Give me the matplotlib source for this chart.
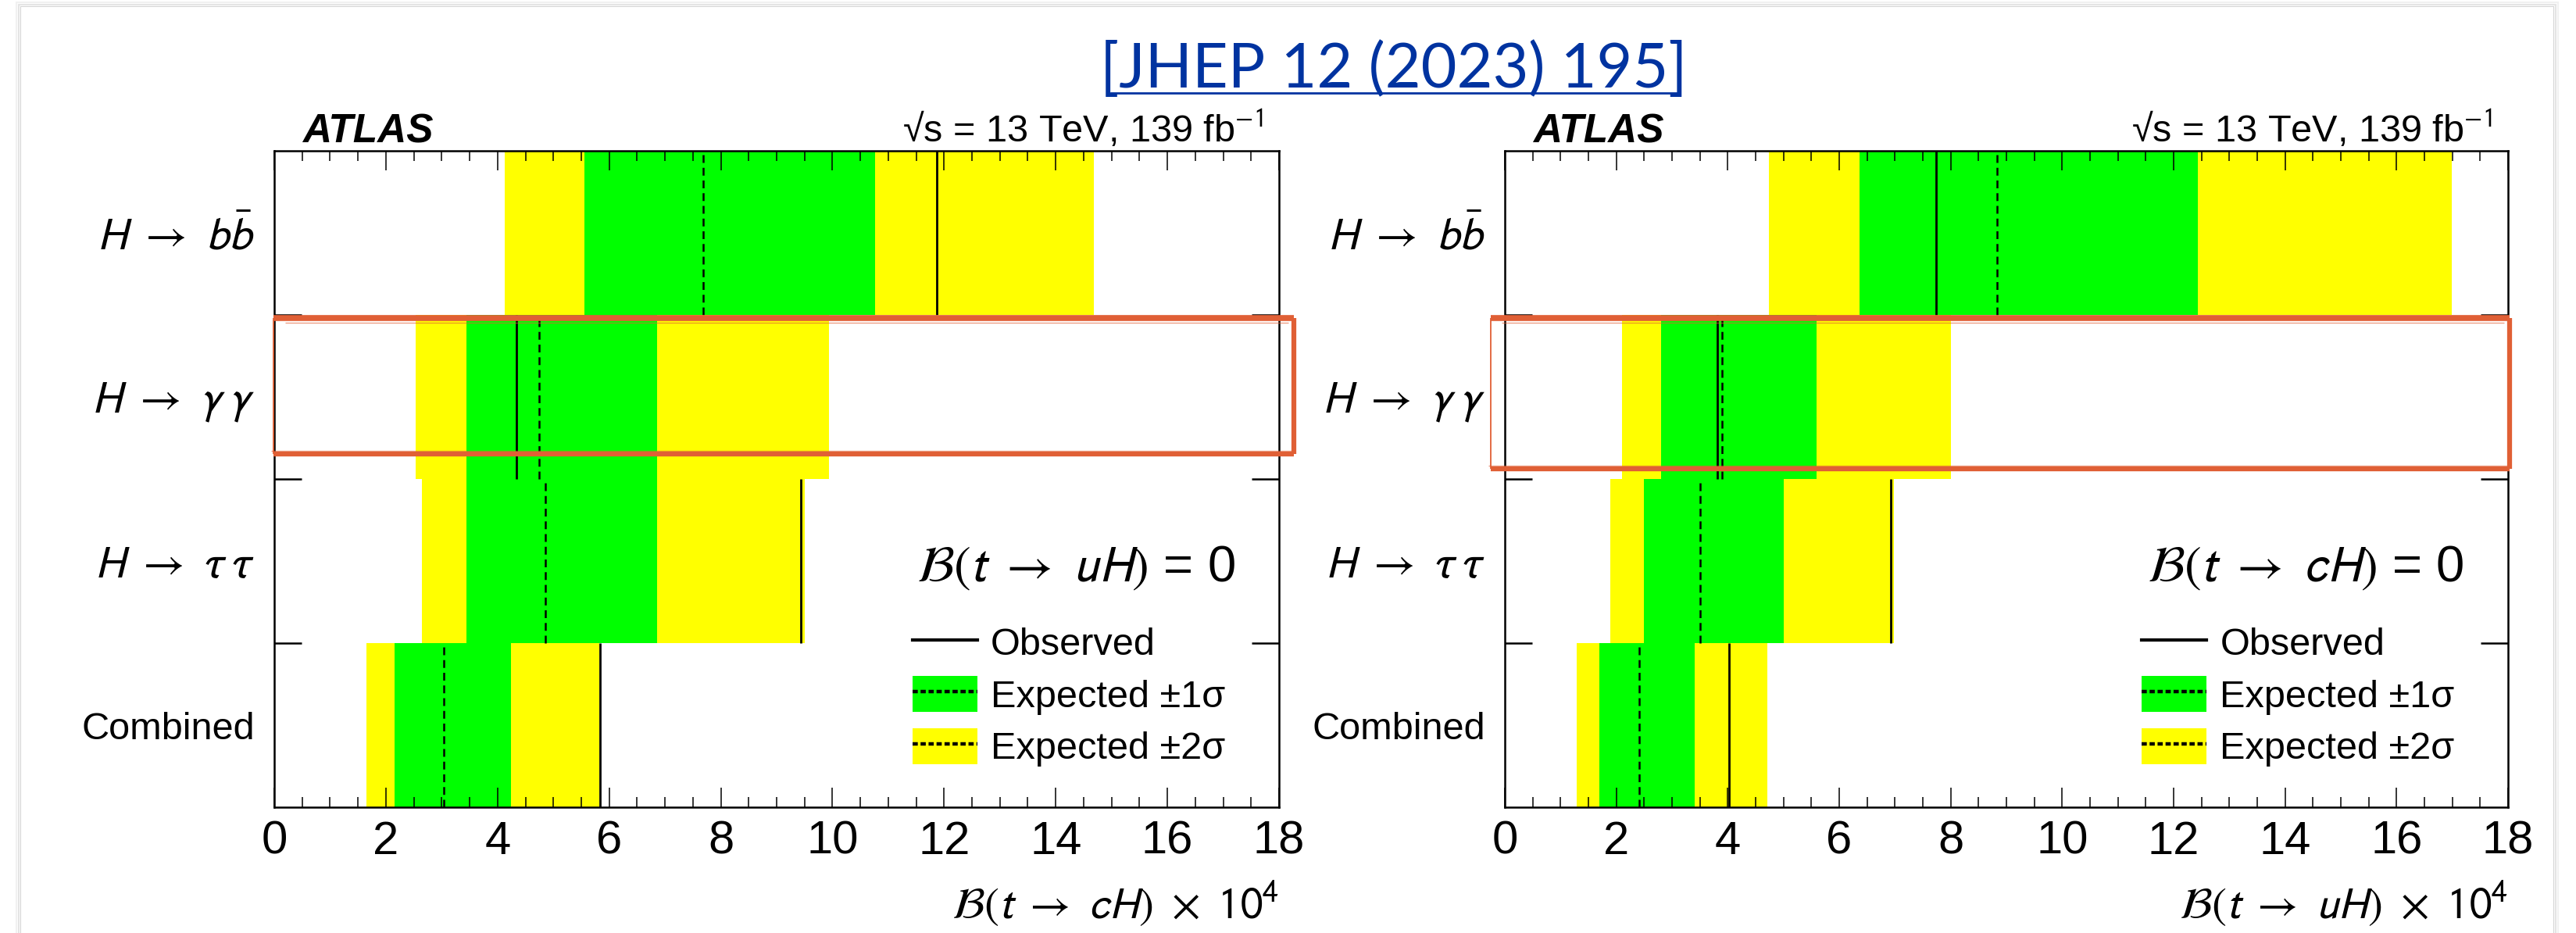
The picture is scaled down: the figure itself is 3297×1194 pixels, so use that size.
import matplotlib

matplotlib.use("Agg")
import matplotlib.pyplot as plt  # noqa: E402
from matplotlib.lines import Line2D  # noqa: E402
from matplotlib.patches import Patch, Rectangle  # noqa: E402

plt.rcParams["font.family"] = ["Liberation Sans", "DejaVu Sans"]
plt.rcParams["mathtext.fontset"] = "stixsans"

# rows from top to bottom
row_labels = [r"$H\ \rightarrow\ b\bar{b}$", r"$H\ \rightarrow\ \gamma\,\gamma$",
              r"$H\ \rightarrow\ \tau\,\tau$", "Combined"]

# left panel: B(t -> cH) x 1e4, with B(t -> uH) = 0
obs_c = [11.87, 4.34, 9.44, 5.84]
exp_c = [7.68, 4.75, 4.85, 3.04]
m1_c = [5.55, 3.44, 3.44, 2.15]
p1_c = [10.77, 6.86, 6.86, 4.24]
m2_c = [4.13, 2.54, 2.65, 1.65]
p2_c = [14.68, 9.94, 9.51, 5.82]

# right panel: B(t -> uH) x 1e4, with B(t -> cH) = 0
obs_u = [7.74, 3.81, 6.93, 4.02]
exp_u = [8.83, 3.90, 3.50, 2.41]
m1_u = [6.36, 2.80, 2.50, 1.70]
p1_u = [12.44, 5.60, 5.00, 3.41]
m2_u = [4.74, 2.10, 1.89, 1.29]
p2_u = [16.99, 8.01, 6.98, 4.71]

GREEN = "#00ff00"
YELLOW = "#ffff00"
RED = "#e05f35"
DASH = (0, (4, 2.5))


def draw_panel(ax, obs, exp, m1, p1, m2, p2, xlabel, fixed_label):
    n = len(row_labels)
    ys = [n - 1 - i for i in range(n)]  # bottom edge of each row
    for y, o, e, a1, b1, a2, b2 in zip(ys, obs, exp, m1, p1, m2, p2):
        ax.barh(y, b2 - a2, left=a2, height=1.0, align="edge", color=YELLOW, lw=0)
        ax.barh(y, b1 - a1, left=a1, height=1.0, align="edge", color=GREEN, lw=0)
        ax.vlines(e, y, y + 1, color="black", lw=1.8, linestyles=[DASH])
        ax.vlines(o, y, y + 1, color="black", lw=2.0)

    ax.set_xlim(0, 18)
    ax.set_ylim(0, n)
    ax.set_xticks(range(0, 19, 2))
    ax.set_xticks([i * 0.5 for i in range(37)], minor=True)
    ax.set_yticks([1, 2, 3])
    ax.set_yticklabels([])
    ax.set_yticks([y + 0.5 for y in ys], minor=True)
    ax.set_yticklabels(row_labels, minor=True, fontsize=35)
    for lab in ax.get_yticklabels(minor=True):
        if lab.get_text().startswith("$"):
            lab.set_fontsize(42)

    ax.tick_params(axis="x", which="both", direction="in", top=True, bottom=True,
                   width=1.1, labelsize=43, pad=12)
    ax.tick_params(axis="x", which="major", length=18)
    ax.tick_params(axis="x", which="minor", length=9.5)
    ax.tick_params(axis="y", which="major", direction="in", left=True, right=True,
                   length=25, width=1.8)
    ax.tick_params(axis="y", which="minor", length=0, pad=18)
    for side in ax.spines.values():
        side.set_linewidth(1.8)

    ax.set_xlabel(xlabel, fontsize=41)
    ax.xaxis.set_label_coords(1.0, -0.170)
    ax.xaxis.label.set_ha("right")
    ax.xaxis.label.set_va("baseline")

    ax.text(0.028, 1.013, "ATLAS", transform=ax.transAxes, fontsize=37,
            fontweight="bold", fontstyle="italic", va="baseline")
    ax.text(0.984, 1.013, "\u221as = 13 TeV, 139 fb$^{-1}$",
            transform=ax.transAxes, fontsize=35, ha="right", va="baseline")
    ax.text(0.956, 0.343, fixed_label, transform=ax.transAxes, fontsize=47,
            ha="right", va="baseline")

    dots = (0, (1.5, 0.8))
    handles = [
        Line2D([], [], color="black", lw=3.0),
        (Patch(color=GREEN, lw=0), Line2D([], [], color="black", lw=3.2, ls=dots)),
        (Patch(color=YELLOW, lw=0), Line2D([], [], color="black", lw=3.2, ls=dots)),
    ]
    labels = ["Observed", "Expected \u00b11\u03c3", "Expected \u00b12\u03c3"]
    ax.legend(handles, labels, loc="center left", bbox_to_anchor=(0.635, 0.170),
              frameon=False, fontsize=35, borderpad=0, borderaxespad=0,
              handlelength=1.71, handleheight=1.07, handletextpad=0.35,
              labelspacing=0.35)


def highlight(ax, x0, x1, y0, y1):
    # hand-drawn style box around the H -> gamma gamma row
    kw = dict(color=RED, clip_on=False, solid_capstyle="butt", zorder=5)
    ax.plot([x0, x1], [y1, y1], lw=5.5, **kw)
    ax.plot([x0, x1], [y0, y0], lw=4.5, **kw)
    ax.plot([x1, x1], [y0, y1], lw=4.5, **kw)
    ax.plot([x0, x0], [y0, y1], lw=1.3, **kw)
    ax.plot([x0 + 0.2, x1 - 0.1], [y1 - 0.03, y1 - 0.03], lw=1.0, alpha=0.6, **kw)
    ax.plot([x0 - 0.05, x1], [y0 + 0.02, y0 + 0.02], lw=1.0, alpha=0.6, **kw)


fig = plt.figure(figsize=(32.98, 11.94), dpi=100)
fig.patch.set_facecolor("white")

# slide card with a soft edge
for off, col in [(6, "#f1f1f1"), (3, "#e4e4e4"), (0, "#d4d4d4")]:
    fig.add_artist(Rectangle(((27 - off) / 3298, -0.1), (3241 + 2 * off) / 3298,
                             1.1 - (9 - off) / 1194, transform=fig.transFigure,
                             facecolor="none", edgecolor=col, lw=1.5, zorder=-3))
fig.add_artist(Rectangle((27 / 3298, -0.1), 3241 / 3298, 1.1 - 9 / 1194,
                         transform=fig.transFigure, facecolor="white",
                         edgecolor="none", zorder=-2))

ax_l = fig.add_axes([0.10643, 0.13484, 0.38993, 0.70352])
ax_r = fig.add_axes([0.58399, 0.13484, 0.38933, 0.70352])

draw_panel(ax_l, obs_c, exp_c, m1_c, p1_c, m2_c, p2_c,
           r"$\mathcal{B}(t\ \rightarrow\ cH)\ \times\ 10^{4}$",
           r"$\mathcal{B}(t\ \rightarrow\ uH)$ = 0")
draw_panel(ax_r, obs_u, exp_u, m1_u, p1_u, m2_u, p2_u,
           r"$\mathcal{B}(t\ \rightarrow\ uH)\ \times\ 10^{4}$",
           r"$\mathcal{B}(t\ \rightarrow\ cH)$ = 0")

highlight(ax_l, -0.01, 18.27, 2.15, 2.98)
highlight(ax_r, -0.25, 18.03, 2.06, 2.98)

title = fig.text(0.541, 0.906, "[JHEP 12 (2023) 195]", ha="center", va="baseline",
                 fontsize=57, color="#0033a0", family=["Lato", "DejaVu Sans"])
fig.canvas.draw()
bb = title.get_window_extent().transformed(fig.transFigure.inverted())
fig.add_artist(Line2D([bb.x0 + 0.004, bb.x1 - 0.004], [1 - 119 / 1194] * 2,
                      transform=fig.transFigure, color="#0033a0", lw=2.0))

fig.savefig("out.png", dpi=100)
